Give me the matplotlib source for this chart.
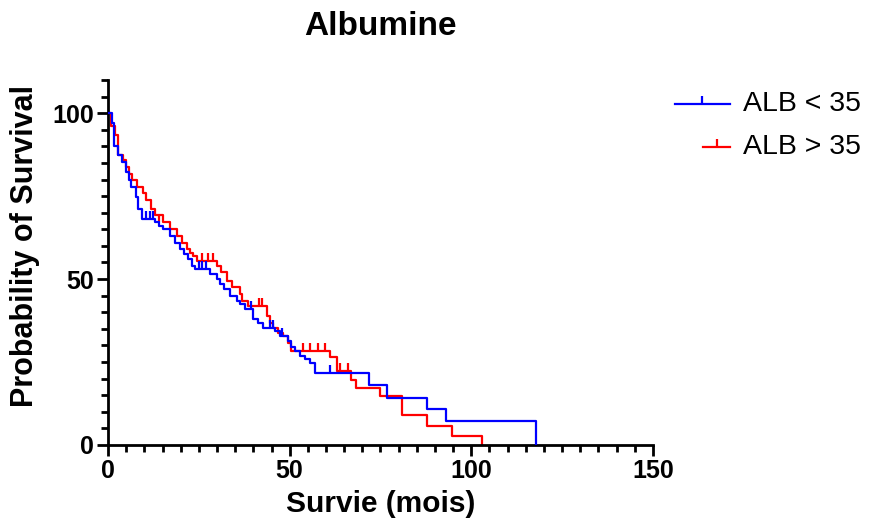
import matplotlib.pyplot as plt
from matplotlib.lines import Line2D
from matplotlib.ticker import MultipleLocator

plt.rcParams['font.family'] = ['Liberation Sans', 'DejaVu Sans']

# -------------------------------
# Kaplan-Meier step data
# -------------------------------
blue_time = [0, 1.1, 1.7, 2.8, 3.8, 4.9, 5.8, 6.4, 7.6, 8.3, 9.3, 12.9, 14.0,
             15.2, 17.0, 18.3, 19.7, 21.0, 21.9, 23.0, 23.9, 28.1, 29.9, 30.8,
             32.0, 33.6, 35.4, 36.3, 37.7, 40.0, 41.3, 42.7, 46.0, 47.3, 49.6,
             50.5, 51.4, 52.8, 54.2, 55.6, 56.9, 71.8, 76.7, 87.8, 93.0, 117.7]
blue_surv = [100, 97, 90, 87.4, 85.4, 82.4, 79.8, 77.9, 74.8, 71.2, 68.2, 67.2,
             66.0, 65.0, 63.0, 61.0, 59.0, 57.6, 56.0, 54.0, 53.0, 51.5, 50.0,
             48.5, 47.0, 45.0, 43.4, 42.4, 40.9, 37.9, 36.9, 35.4, 34.3, 32.8,
             31.3, 29.4, 28.3, 26.8, 25.8, 24.7, 21.8, 18.2, 14.3, 10.9, 7.1, 0]
blue_cens_t = [10.5, 11.5, 12.3, 25.0, 26.0, 27.0, 39.3, 44.5, 45.5, 48.0, 61.0]
blue_cens_s = [68.2, 68.2, 68.2, 53.0, 53.0, 53.0, 40.9, 35.4, 35.4, 32.8, 21.8]

red_time = [0, 0.8, 1.9, 2.8, 4.1, 5.0, 5.8, 6.7, 8.1, 9.5, 10.4, 11.8, 12.9,
            15.2, 17.0, 18.9, 20.3, 21.7, 22.6, 23.5, 24.5, 29.9, 31.0, 32.7,
            34.0, 36.3, 37.0, 38.5, 43.7, 44.6, 45.5, 46.8, 48.2, 49.5, 50.5,
            61.1, 63.0, 66.9, 68.3, 74.9, 80.8, 87.8, 94.7, 103.0]
red_surv = [100, 96, 93.4, 87.4, 85.9, 83.9, 81.8, 79.8, 77.9, 75.8, 73.7,
            71.2, 69.2, 67.2, 65.0, 63.0, 61.0, 59.0, 58.0, 57.0, 55.5, 54.0,
            52.0, 49.5, 47.5, 45.5, 43.4, 42.0, 38.9, 36.9, 35.4, 33.9, 32.8,
            30.8, 28.3, 26.4, 22.2, 19.7, 17.3, 14.8, 8.9, 5.8, 2.7, 0]
red_cens_t = [14.0, 26.0, 27.5, 29.0, 41.5, 42.5, 53.8, 55.6, 57.9, 59.7, 63.9, 66.1]
red_cens_s = [67.2, 55.5, 55.5, 55.5, 42.0, 42.0, 28.3, 28.3, 28.3, 28.3, 22.2, 22.2]

labels = ['ALB < 35', 'ALB > 35']
colors = ['#0000ff', '#ff0000']

# -------------------------------
# Plot
# -------------------------------
fig = plt.figure(figsize=(8.69, 5.31), dpi=100)
ax = fig.add_axes([0.1243, 0.162, 0.6271, 0.6873])

ax.step(blue_time, blue_surv, where='post', color=colors[0], lw=1.6, zorder=3)
ax.plot(blue_cens_t, blue_cens_s, ls='', marker=2, ms=6, mew=1.6,
        color=colors[0], zorder=3)
ax.step(red_time, red_surv, where='post', color=colors[1], lw=1.6, zorder=2)
ax.plot(red_cens_t, red_cens_s, ls='', marker=2, ms=6, mew=1.6,
        color=colors[1], zorder=2)

ax.set_xlim(0, 150)
ax.set_ylim(0, 110)
ax.set_xticks([0, 50, 100, 150])
ax.set_yticks([0, 50, 100])
ax.xaxis.set_minor_locator(MultipleLocator(5))
ax.yaxis.set_minor_locator(MultipleLocator(5))

for side in ['top', 'right']:
    ax.spines[side].set_visible(False)
for side in ['left', 'bottom']:
    ax.spines[side].set_linewidth(2)
ax.tick_params(which='major', length=8, width=2, labelsize=18, pad=2)
ax.tick_params(which='minor', length=5, width=2)
for lab in ax.get_xticklabels() + ax.get_yticklabels():
    lab.set_fontweight('bold')

ax.set_xlabel('Survie (mois)', fontsize=21.5, fontweight='bold', labelpad=5)
ax.set_ylabel('Probability of Survival', fontsize=22, fontweight='bold')
ax.yaxis.set_label_coords(-0.124, 0.545)
fig.text(0.438, 0.951, 'Albumine', fontsize=24, fontweight='bold',
         ha='center', va='center')

# -------------------------------
# Legend (GraphPad style)
# -------------------------------
fig.add_artist(Line2D([0.777, 0.840], [0.804, 0.804], color=colors[0], lw=1.6))
fig.add_artist(Line2D([0.808], [0.804], ls='', marker=2, ms=6, mew=1.6,
                      color=colors[0]))
fig.add_artist(Line2D([0.809, 0.840], [0.723, 0.723], color=colors[1], lw=1.6))
fig.add_artist(Line2D([0.825], [0.723], ls='', marker=2, ms=6, mew=1.6,
                      color=colors[1]))
fig.text(0.855, 0.804, labels[0], fontsize=20.5, va='center')
fig.text(0.855, 0.723, labels[1], fontsize=20.5, va='center')

plt.savefig('out.png', dpi=100)
